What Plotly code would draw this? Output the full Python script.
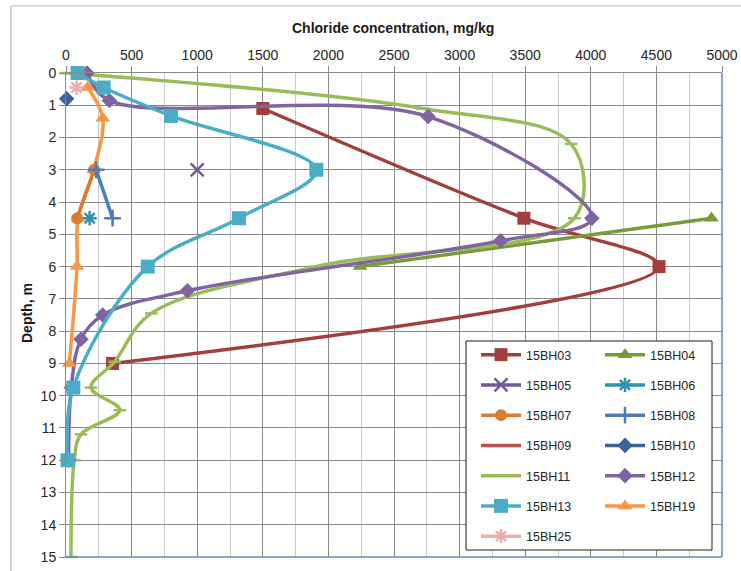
import plotly.graph_objects as go

# ---------------- data ----------------
bh03_x = [1500, 3490, 4520, 355]
bh03_y = [1.1, 4.5, 6.0, 9.0]
bh04_x = [4920, 2240]
bh04_y = [4.5, 6.0]
bh05_x = [1000]
bh05_y = [3.0]
bh06_x = [180]
bh06_y = [4.5]
bh07_x = [215, 85]
bh07_y = [3.0, 4.5]
bh08_x = [230, 355]
bh08_y = [3.0, 4.5]
bh09_x = [None]          # no visible values in the chart (legend entry only)
bh09_y = [None]
bh10_x = [5]
bh10_y = [0.8]
bh11_x = [0, 2720, 3850, 3875, 1900, 650, 370, 190, 410, 114, 63, 38]
bh11_y = [0, 1.1, 2.2, 4.5, 6.0, 7.45, 8.95, 9.75, 10.45, 11.2, 12, 15]
bh12_x = [160, 330, 2760, 4008, 3313, 925, 280, 114, 40, 20]
bh12_y = [0, 0.85, 1.35, 4.5, 5.2, 6.75, 7.5, 8.25, 9.75, 12]
bh13_x = [88, 287, 800, 1908, 1318, 623, 56, 12]
bh13_y = [0, 0.45, 1.33, 3.0, 4.5, 6.0, 9.75, 12]
bh19_x = [165, 280, 212, 92, 84, 25]
bh19_y = [0.45, 1.4, 3.0, 4.5, 6.0, 9.0]
bh25_x = [80]
bh25_y = [0.45]

x_ticks = [0, 500, 1000, 1500, 2000, 2500, 3000, 3500, 4000, 4500, 5000]
y_ticks = list(range(0, 16))

# ---------------- styling ----------------
series = [
    # name, x, y, color, symbol, size, shape, legend
    ("15BH03", bh03_x, bh03_y, "#A23F3C", "square", 13, "spline", "legend"),
    ("15BH04", bh04_x, bh04_y, "#7A9A3A", "triangle-up", 13, "linear", "legend2"),
    ("15BH05", bh05_x, bh05_y, "#71599A", "x-thin-open", 13, "spline", "legend"),
    ("15BH06", bh06_x, bh06_y, "#2F93AD", "asterisk-open", 12, "spline", "legend2"),
    ("15BH07", bh07_x, bh07_y, "#DB7A30", "circle", 12, "spline", "legend"),
    ("15BH08", bh08_x, bh08_y, "#4A7EBB", "cross-thin-open", 12, "spline", "legend2"),
    ("15BH09", bh09_x, bh09_y, "#C0504D", "line-ew-open", 8, "spline", "legend"),
    ("15BH10", bh10_x, bh10_y, "#3A6496", "diamond", 12, "spline", "legend2"),
    ("15BH11", bh11_x, bh11_y, "#9BBB59", "line-ew-open", 9, "spline", "legend"),
    ("15BH12", bh12_x, bh12_y, "#8064A2", "diamond", 12, "spline", "legend2"),
    ("15BH13", bh13_x, bh13_y, "#4BACC6", "square", 14, "spline", "legend"),
    ("15BH19", bh19_x, bh19_y, "#F79646", "triangle-up", 13, "spline", "legend2"),
    ("15BH25", bh25_x, bh25_y, "#E6B0AE", "asterisk-open", 12, "spline", "legend"),
]

# draw 15BH07 and 15BH08 last so their markers sit on top (legend order kept by rank)
draw_order = [0, 1, 2, 3, 6, 7, 8, 9, 10, 11, 12, 4, 5]

fig = go.Figure()
for idx in draw_order:
    name, xs, ys, col, sym, sz, shape, leg = series[idx]
    open_sym = sym.endswith("-open")
    fig.add_trace(go.Scatter(
        x=xs, y=ys, name=name, mode="lines+markers",
        line=dict(color=col, width=3.5, shape=shape, smoothing=1.0),
        marker=dict(symbol=sym, size=sz, color=col,
                    line=dict(color=col, width=2.5 if open_sym else 0)),
        legend=leg, legendgroup=name, legendrank=100 + idx, cliponaxis=False,
    ))

W, H = 741, 571
L, R, T, B = 66, 19, 73, 14
pw, ph = W - L - R, H - T - B


def px_x(p):
    return (p - L) / pw


def px_y(p):
    return (H - B - p) / ph


grid_major = "#8A8A8A"
grid_minor = "#C9C9C9"
tick_font = dict(family="Liberation Sans, Arial, sans-serif", size=14, color="#262626")

legend_common = dict(
    xanchor="left", yanchor="top",
    bgcolor="rgba(0,0,0,0)", borderwidth=0, traceorder="grouped",
    tracegroupgap=11, font=dict(size=12.5, color="#262626"),
    itemwidth=40,
)

fig.update_layout(
    width=W, height=H,
    margin=dict(l=L, r=R, t=T, b=B, pad=0, autoexpand=False),
    paper_bgcolor="white", plot_bgcolor="white",
    font=dict(family="Liberation Sans, Arial, sans-serif"),
    xaxis=dict(
        side="top", range=[0, 5000], tickvals=x_ticks, ticktext=[str(v) for v in x_ticks],
        showgrid=True, gridcolor=grid_major, gridwidth=1,
        minor=dict(dtick=250, tick0=0, showgrid=True, gridcolor=grid_minor, gridwidth=1),
        ticks="outside", ticklen=6, tickcolor=grid_major, tickwidth=1,
        showline=True, linecolor=grid_major, linewidth=1, automargin=False,
        zeroline=False, tickfont=tick_font, fixedrange=True,
    ),
    yaxis=dict(
        range=[15, 0], tickvals=y_ticks, ticktext=[str(v) for v in y_ticks],
        showgrid=True, gridcolor=grid_major, gridwidth=1,
        ticks="outside", ticklen=6, tickcolor=grid_major, tickwidth=1,
        showline=True, linecolor=grid_major, linewidth=1, automargin=False,
        zeroline=False, tickfont=tick_font, fixedrange=True,
    ),
    legend=dict(x=px_x(476), y=px_y(340), **legend_common),
    legend2=dict(x=px_x(600), y=px_y(340), **legend_common),
    showlegend=True,
    annotations=[
        dict(text="<b>Chloride concentration, mg/kg</b>", xref="paper", yref="paper",
             x=px_x(393), y=px_y(28), xanchor="center", yanchor="middle",
             showarrow=False, font=dict(size=14, color="#1a1a1a")),
        dict(text="<b>Depth, m</b>", xref="paper", yref="paper",
             x=px_x(27), y=px_y(313), xanchor="center", yanchor="middle",
             textangle=-90, showarrow=False, font=dict(size=14, color="#1a1a1a")),
    ],
    shapes=[
        # legend box
        dict(type="rect", xref="paper", yref="paper",
             x0=px_x(466), x1=px_x(712), y0=px_y(550), y1=px_y(341),
             fillcolor="white", line=dict(color="#1a1a1a", width=1), layer="above"),
        # blue right / bottom plot edges
        dict(type="line", xref="paper", yref="paper", x0=1, x1=1, y0=0, y1=1,
             line=dict(color="#5B8BC9", width=1.5), layer="above"),
        dict(type="line", xref="paper", yref="paper", x0=0, x1=1, y0=0, y1=0,
             line=dict(color="#5B8BC9", width=1.5), layer="above"),
        # outer chart frame (top and left visible)
        dict(type="line", xref="paper", yref="paper",
             x0=px_x(11), x1=px_x(11), y0=px_y(575), y1=px_y(6),
             line=dict(color="#B5B5B5", width=1.2), layer="above"),
        dict(type="line", xref="paper", yref="paper",
             x0=px_x(11), x1=px_x(745), y0=px_y(6), y1=px_y(6),
             line=dict(color="#B5B5B5", width=1.2), layer="above"),
    ],
)

fig.write_html(
    "out.html",
    config={"displayModeBar": False},
    post_script="document.body.style.margin='0px';document.body.style.overflow='hidden';",
)
